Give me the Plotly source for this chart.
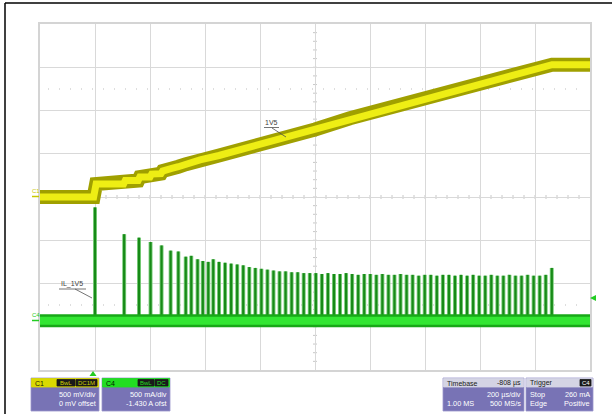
import plotly.graph_objects as go

# ---------------- data (time in microseconds) ----------------
# C1: 1V5 rail voltage (V)
c1_t = [-192, 3, 12, 112, 118, 165, 171, 208, 214, 248, 254, 281, 287, 311, 339, 390, 459, 808, 935, 1670, 1808]
c1_v = [0.0, 0.0, 0.15, 0.15, 0.19, 0.19, 0.23, 0.23, 0.265, 0.27, 0.30, 0.31, 0.33, 0.35, 0.38, 0.43, 0.48, 0.78, 0.91, 1.53, 1.53]

# C4: inductor current IL_1V5 (A) - baseline and pulse peaks
c4_base_t = [-192, 1808]
c4_base_a = [0.0, 0.0]
pulse_t = [8, 114, 168, 210, 250, 283, 311, 338, 358, 381, 400, 420, 438, 459,
           481, 503, 525, 547, 569, 591, 613, 635, 657, 679, 701, 723, 745, 767,
           789, 811, 833, 855, 877, 899, 921, 943, 965, 987, 1009, 1031, 1053, 1075,
           1097, 1119, 1141, 1163, 1185, 1207, 1229, 1251, 1273, 1295, 1317, 1339,
           1361, 1383, 1405, 1427, 1449, 1471, 1493, 1515, 1537, 1559, 1581, 1603,
           1625, 1647, 1669]
pulse_a = [1.31, 1.00, 0.96, 0.91, 0.87, 0.81, 0.80, 0.74, 0.75, 0.71, 0.69, 0.68, 0.71, 0.68,
           0.67, 0.66, 0.65, 0.64, 0.62, 0.61, 0.60, 0.59, 0.58, 0.57, 0.57, 0.56, 0.56, 0.55,
           0.55, 0.55, 0.54, 0.55, 0.54, 0.54, 0.55, 0.54, 0.53, 0.54, 0.54, 0.53, 0.54, 0.53,
           0.53, 0.54, 0.53, 0.53, 0.52, 0.53, 0.53, 0.52, 0.53, 0.53, 0.52, 0.53,
           0.52, 0.53, 0.52, 0.52, 0.53, 0.52, 0.52, 0.53, 0.52, 0.52, 0.53, 0.52,
           0.52, 0.53, 0.61]

# ---------------- geometry helpers ----------------
W, H = 612, 414
L, R, T, B = 40, 590, 24, 370
def px(x):
    return (x - L) / (R - L)
def py(y):
    return (B - y) / (B - T)

FONT = "Liberation Sans"
fig = go.Figure()

# C4 pulses
pxs, pys = [], []
for t, a in zip(pulse_t, pulse_a):
    pxs += [t, t, None]
    pys += [0, a, None]
fig.add_trace(go.Scatter(x=pxs, y=pys, mode="lines", yaxis="y2", hoverinfo="skip",
                         line=dict(color="#7fcf7f", width=4)))
fig.add_trace(go.Scatter(x=pxs, y=pys, mode="lines", yaxis="y2", hoverinfo="skip",
                         line=dict(color="#178a17", width=2.2)))
# C4 baseline band
fig.add_trace(go.Scatter(x=c4_base_t, y=c4_base_a, mode="lines", yaxis="y2", hoverinfo="skip",
                         line=dict(color="#18a818", width=13)))
fig.add_trace(go.Scatter(x=c4_base_t, y=c4_base_a, mode="lines", yaxis="y2", hoverinfo="skip",
                         line=dict(color="#33e633", width=8)))
# C1 band
fig.add_trace(go.Scatter(x=c1_t, y=c1_v, mode="lines", yaxis="y", hoverinfo="skip",
                         line=dict(color="#a0a000", width=14)))
fig.add_trace(go.Scatter(x=c1_t, y=c1_v, mode="lines", yaxis="y", hoverinfo="skip",
                         line=dict(color="#eeee14", width=7)))

shapes = []
annotations = []

def line(x0, y0, x1, y1, color, width=1, dash=None, layer="above"):
    d = dict(type="line", xref="paper", yref="paper", x0=px(x0), y0=py(y0), x1=px(x1), y1=py(y1),
             line=dict(color=color, width=width), layer=layer)
    if dash:
        d["line"]["dash"] = dash
    shapes.append(d)

def rect(x0, y0, x1, y1, fill, lc=None):
    shapes.append(dict(type="rect", xref="paper", yref="paper", x0=px(x0), y0=py(y0), x1=px(x1), y1=py(y1),
                       fillcolor=fill, line=dict(color=lc or fill, width=0.8), layer="above"))

def text(x, y, s, color, size=7, anchor="left", **kw):
    annotations.append(dict(xref="paper", yref="paper", x=px(x), y=py(y), text=s, showarrow=False,
                            xanchor=anchor, yanchor="middle", font=dict(family=FONT, size=size, color=color), **kw))

# outer black frame
line(5, 3, 612, 3, "#000000", 1.5)
line(5, 3, 5, 414, "#000000", 1.5)

# center axis ticks
cx, cy = (L + R) / 2, (T + B) / 2
for i in range(1, 50):
    x = L + i * 11
    if abs(x - cx) > 1:
        line(x, cy - 2, x, cy + 2, "#c8c8c8", 1, layer="below")
for i in range(1, 40):
    y = T + i * (B - T) / 40
    line(cx - 2, y, cx + 2, y, "#c8c8c8", 1, layer="below")

# dotted reference lines
line(L + 8, 89, R - 8, 89, "#bdbdbd", 1, dash="1px,10px", layer="below")
line(L + 8, 305, R - 8, 305, "#bdbdbd", 1, dash="1px,10px", layer="below")

# trace labels
text(271, 122.5, "1V5", "#404040", 7, anchor="center")
line(264, 127.5, 279, 127.5, "#505050", 0.8)
line(272, 128, 286, 137, "#505050", 0.8)
text(72, 284, "IL_1V5", "#404040", 7, anchor="center")
line(59, 289, 86, 289, "#505050", 0.8)
line(75, 289, 92, 298, "#505050", 0.8)

# channel markers
text(35.5, 190.5, "C1", "#c8c800", 6, anchor="center")
line(32, 196.5, 39, 196.5, "#c8c800", 1.5)
text(35.5, 314.5, "C4", "#22cc22", 6, anchor="center")
line(32, 320.5, 39, 320.5, "#22cc22", 1.5)
shapes.append(dict(type="path", xref="paper", yref="paper",
                   path=f"M {px(590)},{py(298)} L {px(596)},{py(295)} L {px(596)},{py(301)} Z",
                   fillcolor="#22cc22", line=dict(width=0), layer="above"))
shapes.append(dict(type="path", xref="paper", yref="paper",
                   path=f"M {px(93)},{py(371)} L {px(96.5)},{py(376)} L {px(89.5)},{py(376)} Z",
                   fillcolor="#22cc22", line=dict(width=0), layer="above"))

# info boxes
BODY = "#7873b5"
def infobox(x0, x1, hdr, title, title_color, tags, rows):
    y0, yh, y1 = 378, 387, 411
    rect(x0, y0, x1, y1, BODY, "#9a96cc")
    rect(x0 + 0.5, y0 + 0.5, x1 - 0.5, yh, hdr)
    text(x0 + 2, (y0 + yh) / 2 + 0.5, title, title_color, 7)
    for (tx0, tx1, s, c) in tags:
        rect(tx0, y0 + 1.5, tx1, yh - 1, "#1a1a1a")
        text((tx0 + tx1) / 2, (y0 + yh) / 2 + 0.5, s, c, 6, anchor="center")
    for i, (ls, rs) in enumerate(rows):
        yy = 394.5 + i * 9
        if ls:
            text(x0 + 2, yy, ls, "#ffffff", 7.3)
        if rs:
            text(x1 - 1.5, yy, rs, "#ffffff", 7.3, anchor="right")

infobox(31, 99, "#dada00", "C1", "#202000",
        [(57, 75, "BwL", "#d0d000"), (76, 97, "DC1M", "#d0d000")],
        [("", "500 mV/div"), ("", "0 mV offset")])
infobox(102, 170, "#22dd22", "C4", "#002000",
        [(138, 154, "BwL", "#22dd22"), (155, 168, "DC", "#22dd22")],
        [("", "500 mA/div"), ("", "-1.430 A ofst")])
infobox(443, 524, "#d4d4e4", "Timebase", "#202020", [],
        [("", "200 µs/div"), ("1.00 MS", "500 MS/s")])
text(522.5, 383, "-808 µs", "#202020", 7, anchor="right")
infobox(526, 593, "#d4d4e4", "Trigger", "#202020", [(580, 591, "C4", "#ffffff")],
        [("Stop", "260 mA"), ("Edge", "Positive")])

fig.update_layout(
    width=W, height=H,
    margin=dict(l=L, r=W - R, t=T, b=H - B),
    paper_bgcolor="#ffffff", plot_bgcolor="#ffffff",
    showlegend=False,
    xaxis=dict(range=[-192, 1808], tick0=-192, dtick=200, showgrid=True, gridcolor="#d9d9d9", gridwidth=1,
               zeroline=False, showticklabels=False, ticks="", showline=True, mirror=True,
               linecolor="#d4d4d4", linewidth=2, fixedrange=True),
    yaxis=dict(range=[-2, 2], tick0=0, dtick=0.5, showgrid=True, gridcolor="#d9d9d9", gridwidth=1,
               zeroline=False, showticklabels=False, ticks="", showline=True, mirror=True,
               linecolor="#d4d4d4", linewidth=2, fixedrange=True),
    yaxis2=dict(range=[-0.57, 3.43], overlaying="y", visible=False, fixedrange=True),
    shapes=shapes, annotations=annotations,
)

fig.write_html("out.html", config={"displayModeBar": False},
               post_script="document.body.style.margin='0';document.body.style.padding='0';document.body.style.overflow='hidden';")
